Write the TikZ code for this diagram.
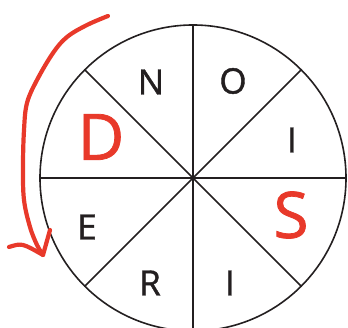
\documentclass[tikz,border=0pt]{standalone}
\usepackage{fontspec}
\setsansfont[FakeBold=1.2]{Open Sans}
\usetikzlibrary{arrows.meta}
\definecolor{Ink}{HTML}{231F20}
\definecolor{Marker}{HTML}{E8392A}

\begin{document}
\begin{tikzpicture}[x=1pt,y=-1pt,font=\sffamily\fontsize{35}{35}\selectfont,letter/.style={text=Ink,inner sep=0pt},scribble/.style={text=Marker,inner sep=0pt,font=\sffamily\fontsize{64}{64}\selectfont},spoke/.style={draw=Ink,line width=1.6pt},pen/.style={draw=Marker,line width=4.2pt,line cap=round,line join=round}]
 \useasboundingbox (0,0) rectangle (348,328);
 \node[circle,draw=Ink,line width=1.6pt,minimum size=306pt,inner sep=0pt,outer sep=0pt] (wheel) at (193,178) {};
 \foreach \a/\b in {0/180,45/225,90/270,135/315}
  \draw[spoke] (wheel.\a)--(wheel.\b);
 % letters round the wheel
 \node[letter] (n) at (151,82) {N};
 \node[letter] (o) at (233,81) {O};
 \node[letter] (i1) at (292,140) {I};
 \node[letter] (i2) at (230,283) {I};
 \node[letter] (r) at (150,283) {R};
 \node[letter] (e) at (87,227) {E};
 \node[scribble] (d) at (101,137) {D};
 \node[scribble] (s) at (291,215) {S};
 % the hand-drawn arrow
 \coordinate (start) at (108,16);
 \coordinate (tip) at (43,255);
 \draw[pen] plot[smooth,tension=0.6] coordinates {(start) (87,25) (67,37) (53,53) (37,80) (27,103) (24,130) (23,167) (24,200) (30,227) (37,245) (tip)};
 \draw[pen] (9,247) .. controls (22,243) .. (tip) .. controls (46,243) .. (50,230);
\end{tikzpicture}
\end{document}
